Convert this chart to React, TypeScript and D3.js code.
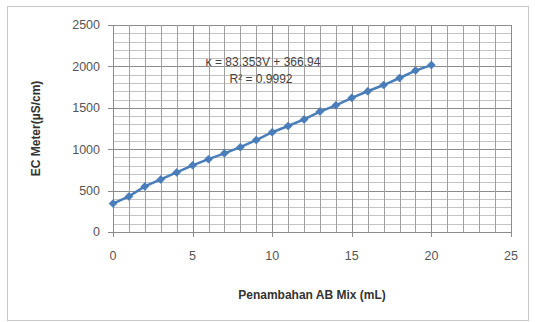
import React from "react";
import * as d3 from "d3";

const xValues = [0, 1, 2, 3, 4, 5, 6, 7, 8, 9, 10, 11, 12, 13, 14, 15, 16, 17, 18, 19, 20];
const ecValues = [343, 430, 550, 635, 720, 805, 880, 950, 1025, 1110, 1205, 1280, 1360, 1455, 1530, 1620, 1700, 1775, 1860, 1950, 2016];
const xTicks = [0, 5, 10, 15, 20, 25];
const yTicks = [0, 500, 1000, 1500, 2000, 2500];
const eqLine1 = "κ = 83.353V + 366.94";
const eqLine2 = "R² = 0.9992";
const xTitle = "Penambahan AB Mix (mL)";
const yTitle = "EC Meter(µS/cm)";

export default function App() {
  const W = 535, H = 322;
  const left = 113, right = 511, top = 25, bottom = 232;
  const x = d3.scaleLinear().domain([0, 25]).range([left, right]);
  const y = d3.scaleLinear().domain([0, 2500]).range([bottom, top]);
  const minorX = d3.range(0, 26, 1);
  const minorY = d3.range(0, 2501, 100);
  const line = d3.line<number>().x((_, i) => x(xValues[i])).y((d) => y(d));
  const font = "'Liberation Sans', Arial, sans-serif";
  return (
    <svg width={W} height={H} style={{ position: "absolute", left: 0, top: 0, background: "#fff" }}>
      <rect x={7.5} y={6.5} width={521} height={314} fill="#fff" stroke="#c8c8c8" />
      {minorY.map((v) => (
        <line key={"hy" + v} x1={left} x2={right} y1={Math.round(y(v)) + 0.5} y2={Math.round(y(v)) + 0.5} stroke={v % 500 === 0 ? "#8c8c8c" : "#c4c4c4"} strokeWidth={1} />
      ))}
      {minorX.map((v) => (
        <line key={"vx" + v} x1={Math.round(x(v)) + 0.5} x2={Math.round(x(v)) + 0.5} y1={top} y2={bottom} stroke={v % 5 === 0 ? "#8c8c8c" : "#a0a0a0"} strokeWidth={1} />
      ))}
      {yTicks.map((v) => (
        <line key={"ty" + v} x1={left - 5} x2={left} y1={Math.round(y(v)) + 0.5} y2={Math.round(y(v)) + 0.5} stroke="#8c8c8c" />
      ))}
      {xTicks.map((v) => (
        <line key={"tx" + v} x1={Math.round(x(v)) + 0.5} x2={Math.round(x(v)) + 0.5} y1={bottom} y2={bottom + 5} stroke="#8c8c8c" />
      ))}
      {yTicks.map((v) => (
        <text key={"ly" + v} x={left - 13} y={y(v)} dy="0.35em" textAnchor="end" fontFamily={font} fontSize={12.5} fill="#555">{v}</text>
      ))}
      {xTicks.map((v) => (
        <text key={"lx" + v} x={x(v)} y={bottom + 28} textAnchor="middle" fontFamily={font} fontSize={12.5} fill="#555">{v}</text>
      ))}
      <path d={line(ecValues) || ""} fill="none" stroke="#4a7ebb" strokeWidth={2.5} />
      {ecValues.map((v, i) => {
        const cx = x(xValues[i]), cy = y(v), r = 4;
        return <path key={"m" + i} d={`M${cx},${cy - r}L${cx + r},${cy}L${cx},${cy + r}L${cx - r},${cy}Z`} fill="#4a7ebb" stroke="#3d6ca8" strokeWidth={0.5} />;
      })}
      <text x={263} y={66} textAnchor="middle" fontFamily={font} fontSize={12} fill="#444">{eqLine1}</text>
      <text x={261} y={83} textAnchor="middle" fontFamily={font} fontSize={12} fill="#444">{eqLine2}</text>
      <text x={312} y={299} textAnchor="middle" fontFamily={font} fontSize={12} fontWeight="bold" fill="#333">{xTitle}</text>
      <text transform={`translate(40,${(top + bottom) / 2}) rotate(-90)`} textAnchor="middle" fontFamily={font} fontSize={12} fontWeight="bold" fill="#333">{yTitle}</text>
    </svg>
  );
}
